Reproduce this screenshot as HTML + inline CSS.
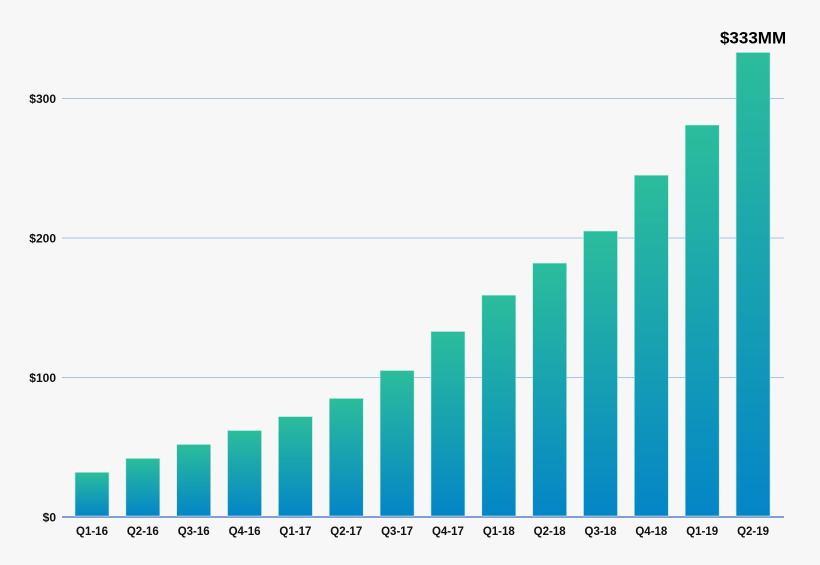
<!DOCTYPE html>
<html><head><meta charset="utf-8"><style>
html,body{margin:0;padding:0;background:#f7f7f7;}
svg{display:block;font-family:"Liberation Sans",sans-serif;font-weight:bold;}
</style></head><body>
<svg id="chart" width="820" height="565" viewBox="0 0 820 565">
<defs><linearGradient id="g" x1="0" y1="0" x2="0" y2="1"><stop offset="0" stop-color="#2bbd9b"/><stop offset="1" stop-color="#0485c7"/></linearGradient></defs>
<rect width="820" height="565" fill="#f7f7f7"/>
<g id="grid"></g><g id="bars"></g><g id="labels"></g>
</svg>
<script>
const categories=["Q1-16","Q2-16","Q3-16","Q4-16","Q1-17","Q2-17","Q3-17","Q4-17","Q1-18","Q2-18","Q3-18","Q4-18","Q1-19","Q2-19"];
const values=[32,42,52,62,72,85,105,133,159,182,205,245,281,333];
const tickValues=[0,100,200,300];
const tickLabels=["$0","$100","$200","$300"];
const topLabel="$333MM";
const NS="http://www.w3.org/2000/svg";
function y(v){return 517-v*1.395;}
function x(i){return 75+i*50.85;}
const bw=34;
function mk(t,a,p){const e=document.createElementNS(NS,t);for(const k in a)e.setAttribute(k,a[k]);p.appendChild(e);return e;}
const grid=document.getElementById('grid'),bars=document.getElementById('bars'),labels=document.getElementById('labels');
tickValues.forEach((v,i)=>{
  const l=mk('line',{x1:62,x2:784,y1:y(v),y2:y(v),stroke:v===0?'#7f9fd6':'#a9c3e3','stroke-width':v===0?2:1},grid);
  
  
  const t=mk('text',{x:56,y:y(v)+4.5,'text-anchor':'end','font-size':12,fill:'#111'},labels);
  t.textContent=tickLabels[i];
  
  
});
categories.forEach((c,i)=>{
  const r=mk('rect',{x:x(i),y:y(values[i]),width:bw,height:y(0)-y(values[i])-1,fill:'url(#g)',stroke:'#bfeee0','stroke-width':0.6},bars);
  
  
  const t=mk('text',{x:x(i)+bw/2,y:535,'text-anchor':'middle','font-size':11.5,fill:'#111'},labels);
  t.textContent=c;
  
  
});
const last=values.length-1;
const tl=mk('text',{x:x(last)+bw/2,y:y(values[last])-9,'text-anchor':'middle','font-size':17,fill:'#000'},labels);
tl.textContent=topLabel;


</script>
</body></html>
